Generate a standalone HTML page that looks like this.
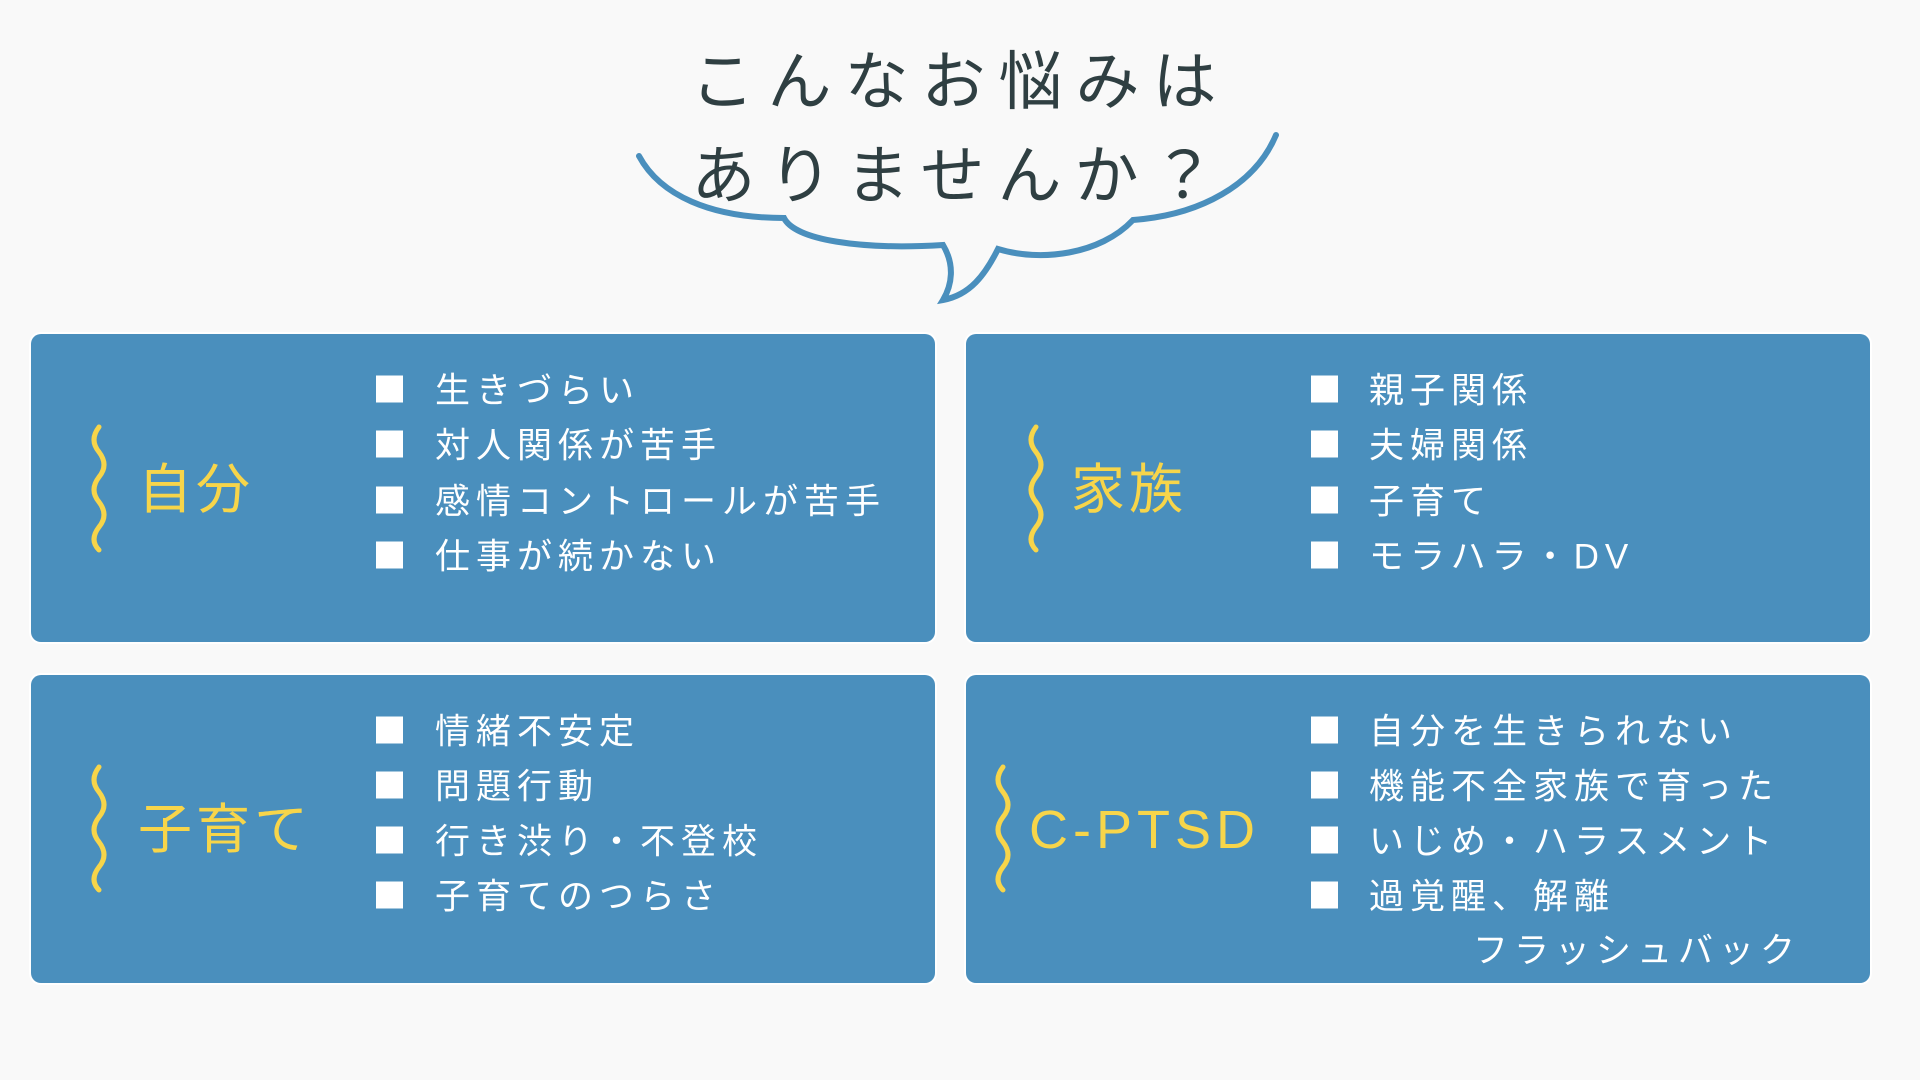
<!DOCTYPE html>
<html><head><meta charset="utf-8"><style>
body{margin:0;width:1920px;height:1080px;background:#f9f9f9;position:relative;overflow:hidden;font-family:"Liberation Sans","Noto Sans CJK JP",sans-serif}
.t{position:absolute;left:0;width:1920px;text-align:center;color:#2f3f42;font-size:64px;letter-spacing:13px;font-weight:400;line-height:1}
.box{position:absolute;width:904px;height:308px;background:#4a8fbd;border-radius:10px;box-shadow:0 0 0 2px #fff}
.lbl{position:absolute;color:#f7d54a;font-size:54px;letter-spacing:4px;line-height:1;transform:translateY(-50%)}
.it{position:absolute;color:#fff;font-size:35px;letter-spacing:6px;line-height:1;transform:translateY(-50%);white-space:nowrap}
.sq{position:absolute;width:27px;height:27px;background:#fff;transform:translateY(-50%)}
svg{position:absolute;left:0;top:0}
</style></head><body>
<div class="t" style="top:50px">こんなお悩みは</div>
<div class="t" style="top:144px">ありませんか？</div>
<svg width="1920" height="1080">
<path d="M639 156 C660 195 710 218 784 218 C795 240 860 250 943 245 C955 265 952 285 943 300 C970 295 985 275 998 249 C1040 262 1100 255 1133 220 C1200 215 1255 185 1276 135" fill="none" stroke="#4a8fbd" stroke-width="6" stroke-linecap="round"/>
</svg>
<div class="box" style="left:31px;top:334px"></div>
<div class="box" style="left:966px;top:334px"></div>
<div class="box" style="left:31px;top:675px"></div>
<div class="box" style="left:966px;top:675px"></div>
<svg width="1920" height="1080">
<g fill="none" stroke="#f7d54a" stroke-width="5" stroke-linecap="round">
<path d="M99 427 q-10 13 0 25 q10 13 0 25 q-10 13 0 25 q10 13 0 25 q-10 13 0 23"/>
<path d="M1036 427 q-10 13 0 25 q10 13 0 25 q-10 13 0 25 q10 13 0 25 q-10 13 0 23"/>
<path d="M99 767 q-10 13 0 25 q10 13 0 25 q-10 13 0 25 q10 13 0 25 q-10 13 0 23"/>
<path d="M1003 767 q-10 13 0 25 q10 13 0 25 q-10 13 0 25 q10 13 0 25 q-10 13 0 23"/>
</g></svg>
<div class="lbl" style="left:138px;top:490px">自分</div>
<div class="lbl" style="left:1071px;top:490px">家族</div>
<div class="lbl" style="left:138px;top:830px">子育て</div>
<div class="lbl" style="left:1029px;top:830px;letter-spacing:5px">C-PTSD</div>

<div class="sq" style="left:376px;top:389px"></div><div class="it" style="left:435px;top:391px">生きづらい</div>
<div class="sq" style="left:376px;top:444px"></div><div class="it" style="left:435px;top:446px">対人関係が苦手</div>
<div class="sq" style="left:376px;top:500px"></div><div class="it" style="left:435px;top:502px">感情コントロールが苦手</div>
<div class="sq" style="left:376px;top:555px"></div><div class="it" style="left:435px;top:557px">仕事が続かない</div>

<div class="sq" style="left:1311px;top:389px"></div><div class="it" style="left:1369px;top:391px">親子関係</div>
<div class="sq" style="left:1311px;top:444px"></div><div class="it" style="left:1369px;top:446px">夫婦関係</div>
<div class="sq" style="left:1311px;top:500px"></div><div class="it" style="left:1369px;top:502px">子育て</div>
<div class="sq" style="left:1311px;top:555px"></div><div class="it" style="left:1369px;top:557px">モラハラ・DV</div>

<div class="sq" style="left:376px;top:730px"></div><div class="it" style="left:435px;top:732px">情緒不安定</div>
<div class="sq" style="left:376px;top:785px"></div><div class="it" style="left:435px;top:787px">問題行動</div>
<div class="sq" style="left:376px;top:840px"></div><div class="it" style="left:435px;top:842px">行き渋り・不登校</div>
<div class="sq" style="left:376px;top:895px"></div><div class="it" style="left:435px;top:897px">子育てのつらさ</div>

<div class="sq" style="left:1311px;top:730px"></div><div class="it" style="left:1369px;top:732px">自分を生きられない</div>
<div class="sq" style="left:1311px;top:785px"></div><div class="it" style="left:1369px;top:787px">機能不全家族で育った</div>
<div class="sq" style="left:1311px;top:840px"></div><div class="it" style="left:1369px;top:842px">いじめ・ハラスメント</div>
<div class="sq" style="left:1311px;top:895px"></div><div class="it" style="left:1369px;top:897px">過覚醒、解離</div>
<div class="it" style="left:1473px;top:951px">フラッシュバック</div>
</body></html>
